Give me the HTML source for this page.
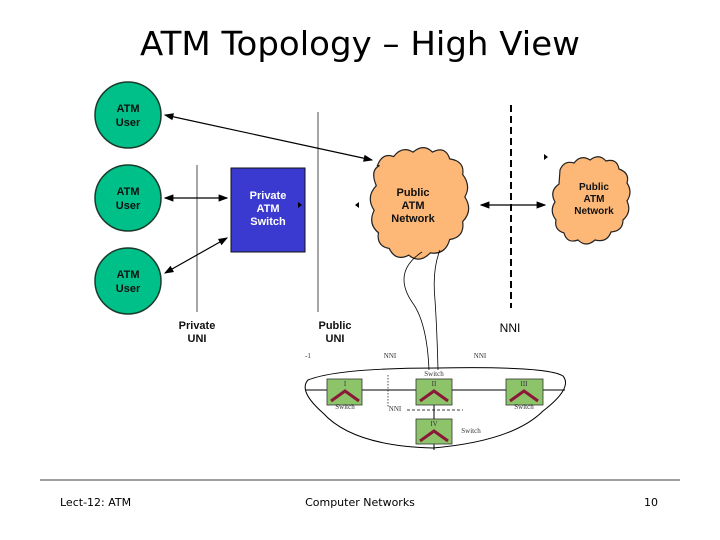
<!DOCTYPE html>
<html><head><style>body{margin:0;background:#fff}svg{display:block}</style></head><body>
<svg width="720" height="540" xmlns="http://www.w3.org/2000/svg" font-family="Liberation Sans, sans-serif">
<defs><marker id="a" markerWidth="8" markerHeight="8" refX="7" refY="4" orient="auto-start-reverse"><path d="M0,1 L8,4 L0,7z" fill="#000"/></marker></defs>
<text x="360" y="55" text-anchor="middle" font-family="DejaVu Sans, sans-serif" font-size="33" textLength="440" lengthAdjust="spacingAndGlyphs">ATM Topology – High View</text>
<g fill="#00c08a" stroke="#1a3a2a" stroke-width="1.5">
<circle cx="128" cy="115" r="33"/><circle cx="128" cy="198" r="33"/><circle cx="128" cy="281" r="33"/></g>
<g font-weight="bold" font-size="11" text-anchor="middle" fill="#111">
<text x="128" y="112">ATM</text><text x="128" y="126">User</text>
<text x="128" y="195">ATM</text><text x="128" y="209">User</text>
<text x="128" y="278">ATM</text><text x="128" y="292">User</text></g>
<rect x="231" y="168" width="74" height="84" fill="#3a3ad0" stroke="#111" stroke-width="1"/>
<g font-weight="bold" font-size="11" text-anchor="middle" fill="#fff"><text x="268" y="199">Private</text><text x="268" y="212">ATM</text><text x="268" y="225">Switch</text></g>
<line x1="197" y1="165" x2="197" y2="312" stroke="#000" stroke-width="0.7"/>
<line x1="318" y1="112" x2="318" y2="312" stroke="#000" stroke-width="0.7"/>
<line x1="511" y1="105" x2="511" y2="308" stroke="#000" stroke-width="2" stroke-dasharray="7,4"/>
<g stroke="#000" stroke-width="1.2" fill="none">
<line x1="165" y1="115" x2="372" y2="160" marker-start="url(#a)" marker-end="url(#a)"/>
<line x1="165" y1="198" x2="227" y2="198" marker-start="url(#a)" marker-end="url(#a)"/>
<line x1="165" y1="273" x2="227" y2="238" marker-start="url(#a)" marker-end="url(#a)"/>
<line x1="481" y1="205" x2="545" y2="205" marker-start="url(#a)" marker-end="url(#a)"/>
</g>
<path d="M302,205 l-4,-3 v6z M355,205 l4,-3 v6z M548,157 l-4,-3 v6z" fill="#000"/>
<g transform="translate(413,207) scale(1.08,1.12) translate(-413,-202)">
<path d="M380,165 q5,-12 15,-8 q8,-10 18,-4 q10,-8 18,0 q12,-6 16,6 q14,2 12,14 q8,10 2,20 q8,12 -2,22 q2,14 -12,16 q-4,14 -18,12 q-10,10 -20,2 q-12,6 -18,-6 q-12,-2 -10,-14 q-10,-8 -4,-20 q-8,-12 2,-22 q-6,-14 3,-18z" fill="#fdb878" stroke="#222" stroke-width="1.1"/></g>
<path d="M560,170 q4,-10 14,-7 q7,-9 16,-3 q9,-7 16,1 q11,-3 13,8 q11,4 8,14 q6,9 0,18 q5,11 -4,19 q0,11 -12,12 q-4,11 -16,8 q-9,8 -17,0 q-11,4 -14,-7 q-10,-3 -8,-13 q-7,-9 -1,-18 q-6,-11 4,-18z" fill="#fdb878" stroke="#222" stroke-width="1.2"/>
<g font-weight="bold" font-size="11" text-anchor="middle" fill="#111">
<text x="413" y="196">Public</text><text x="413" y="209">ATM</text><text x="413" y="222">Network</text>
<text x="594" y="190" font-size="10">Public</text><text x="594" y="202" font-size="10">ATM</text><text x="594" y="214" font-size="10">Network</text>
<text x="197" y="329">Private</text><text x="197" y="342">UNI</text>
<text x="335" y="329">Public</text><text x="335" y="342">UNI</text></g>
<text x="510" y="332" font-size="12" text-anchor="middle">NNI</text>
<path d="M422,252 q-30,20 -10,50 q15,20 17,68 M440,250 q-8,20 -5,50 q2,30 3,70" stroke="#000" fill="none" stroke-width="0.8"/>
<path d="M308,380 q30,-12 130,-12 q110,-2 125,8 q10,12 -20,35 q-30,30 -110,37 q-80,-2 -110,-35 q-25,-22 -15,-33z" fill="none" stroke="#000" stroke-width="1"/>
<line x1="305" y1="390" x2="565" y2="390" stroke="#000"/>
<line x1="434" y1="390" x2="434" y2="450" stroke="#000"/>
<line x1="388" y1="375" x2="388" y2="407" stroke="#000" stroke-dasharray="1.5,1.5" stroke-width="0.7"/>
<line x1="407" y1="410" x2="463" y2="410" stroke="#000" stroke-dasharray="3,2" stroke-width="0.7"/>
<g fill="#8dc46a" stroke="#333" stroke-width="0.8">
<rect x="327" y="379" width="35" height="26"/><rect x="416" y="379" width="36" height="26"/><rect x="506" y="379" width="37" height="26"/><rect x="416" y="419" width="36" height="25"/></g>
<g stroke="#8a1838" stroke-width="3" fill="none">
<path d="M331,401 l14,-10 l14,10"/><path d="M420,401 l14,-10 l14,10"/><path d="M510,401 l14,-10 l14,10"/><path d="M420,441 l14,-10 l14,10"/></g>
<g font-family="Liberation Serif, serif" font-size="7" fill="#333" text-anchor="middle">
<text x="345" y="386">I</text><text x="434" y="386">II</text><text x="524" y="386">III</text><text x="434" y="426">IV</text>
<text x="345" y="409">Switch</text><text x="434" y="376">Switch</text><text x="524" y="409">Switch</text><text x="471" y="433">Switch</text>
<text x="395" y="411">NNI</text><text x="390" y="358">NNI</text><text x="480" y="358">NNI</text><text x="308" y="358">-1</text></g>
<line x1="40" y1="480" x2="680" y2="480" stroke="#000" stroke-width="0.8"/>
<g font-family="DejaVu Sans, sans-serif" font-size="11"><text x="60" y="506">Lect-12: ATM</text><text x="360" y="506" text-anchor="middle">Computer Networks</text><text x="658" y="506" text-anchor="end">10</text></g>
</svg></body></html>
